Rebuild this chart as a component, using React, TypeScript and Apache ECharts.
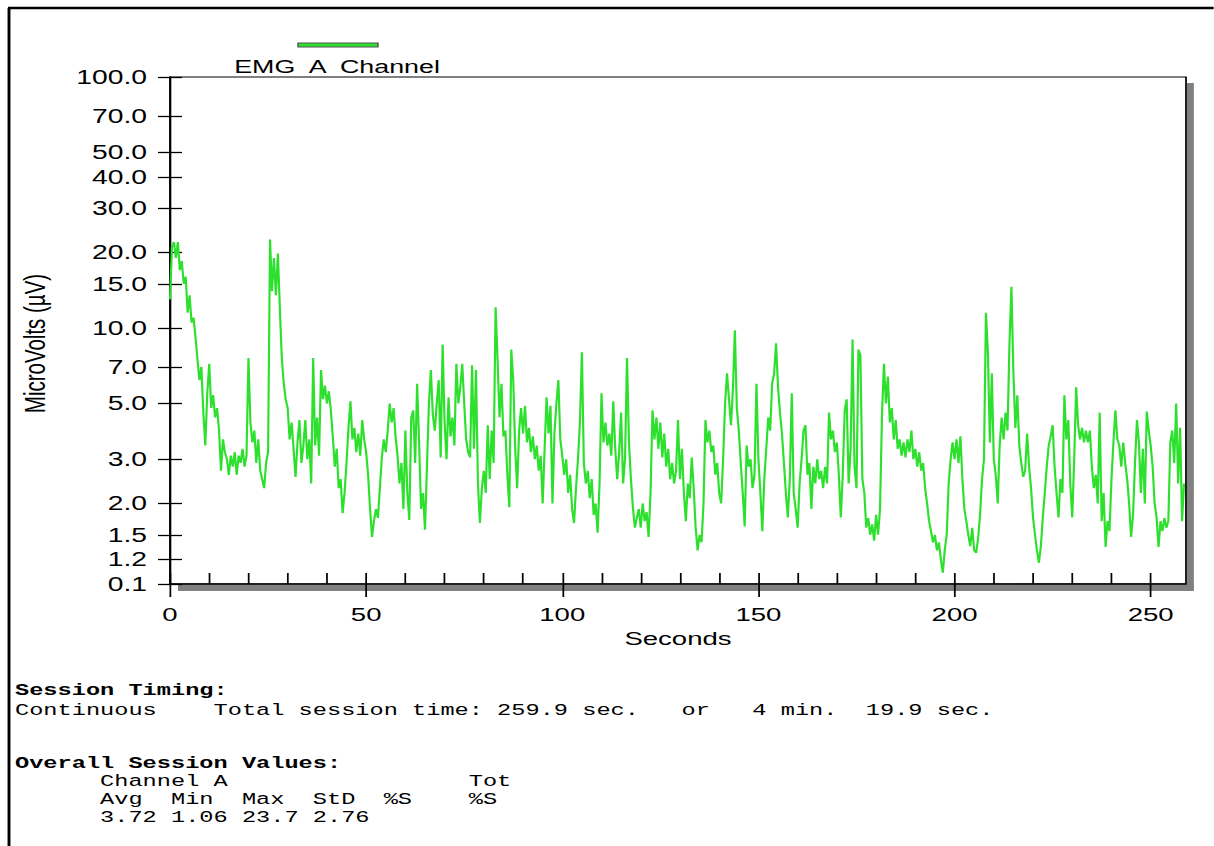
import React, { useEffect, useRef } from "react";
import * as echarts from "echarts";

// ---- data ----
const SAMPLE_STEP_SEC = 0.5;
const EMG_A_VALUES: number[] = [
  13, 21, 22, 19, 22, 17, 18.5, 15, 16, 11.5, 13.5, 10.5, 11, 9.2, 7.5, 6.2, 7.0, 4.6, 3.4, 5.5,
  7.2, 4.8, 5.4, 4.4, 4.8, 3.9, 2.7, 3.6, 3.2, 3.0, 2.6, 3.1, 2.8, 3.2, 2.6, 3.1, 2.9, 3.3, 2.8, 3.1,
  7.6, 4.2, 3.5, 3.9, 2.9, 3.6, 2.7, 2.5, 2.3, 2.9, 3.2, 22.5, 14, 19, 13.5, 19.8, 12, 7.6, 6.0, 5.2,
  4.8, 3.6, 4.2, 3.3, 2.55, 3.5, 4.3, 2.9, 3.4, 4.3, 3.0, 3.6, 2.4, 7.6, 3.4, 4.4, 3.1, 6.8, 5.2, 5.9,
  5.0, 5.6, 4.7, 3.7, 2.8, 3.3, 2.3, 2.5, 1.83, 2.2, 2.9, 4.0, 5.1, 3.6, 4.0, 3.2, 3.8, 3.1, 4.3, 3.6,
  3.2, 2.6, 1.9, 1.47, 1.7, 1.9, 1.75, 2.3, 3.05, 3.6, 3.2, 3.9, 5.0, 4.2, 4.8, 3.7, 3.1, 2.4, 2.9, 1.9,
  3.9, 2.2, 1.72, 4.4, 4.7, 2.9, 6.0, 3.5, 1.9, 2.2, 1.57, 2.8, 5.0, 6.8, 4.5, 3.9, 5.0, 6.2, 3.05, 8.6,
  4.2, 3.0, 5.3, 3.7, 4.4, 3.4, 7.2, 5.0, 5.8, 7.2, 5.0, 3.6, 3.2, 3.05, 7.1, 3.3, 6.8, 2.4, 1.67, 2.3,
  2.7, 2.2, 4.1, 2.5, 3.9, 2.9, 12.1, 7.5, 4.4, 6.0, 3.7, 3.9, 2.6, 1.93, 8.2, 6.2, 3.3, 2.3, 3.9, 4.8,
  3.8, 4.9, 3.5, 4.0, 3.2, 3.7, 3.0, 3.4, 2.7, 3.1, 2.0, 3.3, 5.3, 3.8, 4.9, 2.0, 3.8, 5.0, 6.2, 3.6,
  3.1, 2.6, 3.0, 2.2, 2.6, 1.9, 1.67, 2.3, 3.0, 4.2, 8.0, 2.9, 2.4, 2.7, 2.1, 2.5, 1.8, 2.0, 1.53, 2.4,
  5.5, 3.5, 4.2, 3.4, 3.8, 3.1, 5.1, 3.3, 2.5, 3.2, 4.6, 2.4, 3.0, 7.6, 3.5, 2.5, 1.93, 1.6, 1.75, 1.9,
  1.6, 2.0, 1.7, 1.85, 1.47, 2.2, 4.7, 3.6, 4.4, 3.3, 4.2, 3.05, 3.8, 2.8, 3.3, 2.5, 2.9, 2.4, 2.7, 4.3,
  2.5, 3.3, 2.2, 1.7, 2.4, 2.1, 3.05, 2.3, 1.6, 1.3, 1.5, 1.4, 2.0, 4.3, 3.5, 3.9, 3.2, 3.4, 2.6, 2.9,
  2.2, 2.0, 3.0, 5.0, 6.6, 5.2, 4.1, 5.7, 9.8, 4.8, 3.9, 2.9, 2.2, 1.62, 3.4, 2.8, 3.0, 2.3, 2.6, 6.0,
  3.0, 2.2, 1.55, 2.5, 3.3, 4.4, 3.9, 6.0, 6.6, 8.7, 5.8, 4.6, 3.8, 2.9, 2.2, 1.76, 2.5, 5.5, 2.2, 1.9,
  1.6, 2.4, 3.0, 3.9, 4.1, 2.6, 2.9, 1.9, 2.8, 2.4, 3.0, 2.5, 2.7, 2.3, 2.8, 2.4, 4.6, 3.6, 3.9, 3.2,
  3.5, 2.6, 1.76, 2.6, 4.7, 5.2, 2.4, 3.3, 9.0, 2.8, 2.3, 8.2, 7.8, 2.5, 2.2, 1.6, 1.75, 1.5, 1.65, 1.42,
  1.8, 1.5, 1.9, 4.5, 7.2, 5.0, 6.4, 4.2, 4.8, 3.6, 4.3, 3.3, 3.6, 3.1, 3.5, 3.05, 3.6, 3.2, 3.9, 3.0,
  3.3, 2.8, 3.2, 2.7, 2.9, 2.3, 2.0, 1.7, 1.55, 1.4, 1.5, 1.3, 1.4, 1.2, 1.06, 1.3, 1.5, 2.4, 3.0, 3.5,
  3.0, 3.6, 2.9, 3.7, 2.5, 1.9, 1.7, 1.5, 1.35, 1.6, 1.3, 1.27, 1.45, 1.8, 2.5, 3.0, 11.5, 8.0, 3.5, 6.6,
  3.0, 2.6, 2.0, 3.4, 4.4, 3.6, 4.6, 3.9, 8.7, 14.6, 6.6, 4.0, 5.4, 3.4, 2.9, 2.55, 2.7, 3.8, 2.8, 2.3,
  1.76, 1.5, 1.3, 1.16, 1.35, 1.76, 2.2, 2.8, 3.4, 3.7, 4.1, 2.8, 2.2, 1.76, 2.5, 2.2, 5.4, 3.6, 4.3, 2.4,
  1.76, 3.0, 5.8, 4.1, 3.6, 4.0, 3.5, 3.9, 3.5, 3.9, 2.8, 2.3, 2.6, 2.0, 4.6, 1.7, 2.2, 1.34, 1.7, 1.55,
  2.5, 3.5, 4.7, 3.6, 3.4, 2.8, 3.5, 2.9, 2.5, 2.0, 1.47, 1.8, 2.9, 4.3, 3.5, 2.2, 3.3, 2.0, 4.65, 3.9,
  3.4, 2.8, 2.0, 1.76, 1.34, 1.7, 1.55, 1.75, 1.6, 1.7, 3.5, 3.9, 2.9, 5.0, 2.4, 4.0, 1.7, 2.4,
];

const Y_MIN = 0.955;
const Y_MAX = 100;
const Y_TICK_VALUES = [0.955, 1.2, 1.5, 2, 3, 5, 7, 10, 15, 20, 30, 40, 50, 70, 100];
const Y_TICK_LABELS = ["0.1", "1.2", "1.5", "2.0", "3.0", "5.0", "7.0", "10.0", "15.0", "20.0", "30.0", "40.0", "50.0", "70.0", "100.0"];
const X_MAX = 259;
const X_MAJOR_TICKS = [0, 50, 100, 150, 200, 250];
const X_MINOR_TICKS = [0, 10, 20, 30, 40, 50, 60, 70, 80, 90, 100, 110, 120, 130, 140, 150, 160, 170, 180, 190, 200, 210, 220, 230, 240, 250];

const SERIES_NAME = "EMG  A  Channel";
const Y_NAME = "MicroVolts (µV)";
const X_NAME = "Seconds";

const REPORT_LINES: string[] = [
  "Session Timing:",
  "Continuous    Total session time: 259.9 sec.   or   4 min.  19.9 sec.",
  "Overall Session Values:",
  "      Channel A                 Tot",
  "      Avg  Min  Max  StD  %S    %S",
  "      3.72 1.06 23.7 2.76",
];
const REPORT_BOLD = [true, false, true, false, false, false];
const REPORT_LINE_Y = [691, 711, 764, 782, 800, 818];

// ---- layout (the source picture is a horizontally stretched screenshot) ----
const W = 1214;
const H = 846;
const STRETCH = 1.45;
const sx = (x: number) => x / STRETCH; // final-pixel x -> unstretched chart x
const CW = W / STRETCH;
const GRID_L = sx(170);
const GRID_T = 77;
const GRID_W = sx(1186) - sx(170);
const GRID_H = 507;
const SANS = "'Liberation Sans', Arial, sans-serif";
const MONO = "'Liberation Mono', 'Courier New', monospace";

function yLabel(val: number): string {
  let best = 0;
  let bestD = Infinity;
  for (let i = 0; i < Y_TICK_VALUES.length; i++) {
    const d = Math.abs(Math.log(val) - Math.log(Y_TICK_VALUES[i]));
    if (d < bestD) {
      bestD = d;
      best = i;
    }
  }
  return Y_TICK_LABELS[best];
}

export default function App() {
  const ref = useRef<HTMLDivElement>(null);

  useEffect(() => {
    if (!ref.current) return;
    const chart = echarts.init(ref.current, null, { renderer: "svg" });
    const seriesData = EMG_A_VALUES.map((v, i) => [i * SAMPLE_STEP_SEC, v]);

    const reportGraphics = REPORT_LINES.map((t, i) => ({
      type: "text",
      x: sx(15),
      y: REPORT_LINE_Y[i],
      style: {
        text: t,
        fontFamily: MONO,
        fontSize: 16.3,
        fontWeight: REPORT_BOLD[i] ? "bold" : "normal",
        fill: "#000",
        verticalAlign: "middle",
        textVerticalAlign: "middle",
      },
    }));

    const option: any = {
      animation: false,
      backgroundColor: "#ffffff",
      grid: {
        left: GRID_L,
        top: GRID_T,
        width: GRID_W,
        height: GRID_H,
        show: true,
        backgroundColor: "#ffffff",
        borderColor: "#000",
        borderWidth: 1.2,
        containLabel: false,
      },
      xAxis: [
        {
          type: "value",
          min: 0,
          max: X_MAX,
          position: "bottom",
          axisLine: { show: true, onZero: false, lineStyle: { color: "#000", width: 1.5 } },
          axisTick: { show: true, length: 13, customValues: X_MAJOR_TICKS, lineStyle: { color: "#000", width: 1.2 } },
          axisLabel: {
            customValues: X_MAJOR_TICKS,
            fontFamily: SANS,
            fontSize: 19,
            color: "#000",
            margin: 21,
          },
          splitLine: { show: false },
          name: X_NAME,
          nameLocation: "middle",
          nameGap: 39,
          nameTextStyle: { fontFamily: SANS, fontSize: 19, color: "#000" },
        },
        {
          type: "value",
          min: 0,
          max: X_MAX,
          position: "top",
          offset: -GRID_H,
          axisLine: { show: false, onZero: false },
          axisTick: { show: true, length: 11, customValues: X_MINOR_TICKS, lineStyle: { color: "#000", width: 1.2 } },
          axisLabel: { show: false },
          splitLine: { show: false },
        },
      ],
      yAxis: [
        {
          type: "log",
          logBase: 10,
          min: Y_MIN,
          max: Y_MAX,
          position: "left",
          axisLine: { show: true, onZero: false, lineStyle: { color: "#000", width: 1.3 } },
          axisTick: { show: true, length: sx(12), customValues: Y_TICK_VALUES, lineStyle: { color: "#000", width: 1.3 } },
          axisLabel: {
            customValues: Y_TICK_VALUES,
            formatter: (v: number) => yLabel(v),
            fontFamily: SANS,
            fontSize: 19.5,
            color: "#000",
            margin: sx(23),
          },
          minorTick: { show: false },
          splitLine: { show: false },
          name: Y_NAME,
          nameLocation: "middle",
          nameRotate: 90,
          nameGap: GRID_L - sx(38) - 8,
          nameTextStyle: { fontFamily: SANS, fontSize: 20.5, color: "#000", padding: [0, 26, 0, 0] },
        },
        {
          type: "log",
          logBase: 10,
          min: Y_MIN,
          max: Y_MAX,
          position: "right",
          offset: -GRID_W,
          axisLine: { show: false, onZero: false },
          axisTick: { show: true, length: sx(12), customValues: Y_TICK_VALUES, lineStyle: { color: "#000", width: 1.3 } },
          axisLabel: { show: false },
          minorTick: { show: false },
          splitLine: { show: false },
        },
      ],
      series: [
        {
          name: SERIES_NAME,
          type: "line",
          xAxisIndex: 0,
          yAxisIndex: 0,
          data: seriesData,
          showSymbol: false,
          symbol: "none",
          lineStyle: { color: "#2ee02e", width: 1.5 },
          z: 3,
        },
      ],
      graphic: [
        // outer frame
        { type: "line", shape: { x1: sx(8), y1: 8, x2: CW, y2: 8 }, style: { stroke: "#000", lineWidth: 2.5 } },
        { type: "line", shape: { x1: sx(9), y1: 8, x2: sx(9), y2: H }, style: { stroke: "#000", lineWidth: 2 } },
        // plot drop shadow
        {
          type: "rect",
          shape: { x: GRID_L + GRID_W + 0.6, y: GRID_T + 6, width: sx(7), height: GRID_H + 1 },
          style: { fill: "#808080" },
          z: -1,
        },
        {
          type: "rect",
          shape: { x: GRID_L + sx(8), y: GRID_T + GRID_H + 1, width: GRID_W - sx(8) + sx(7.5), height: 6 },
          style: { fill: "#808080" },
          z: -1,
        },
        // legend
        {
          type: "rect",
          shape: { x: sx(298), y: 43, width: sx(80), height: 4 },
          style: { fill: "#2ee02e", stroke: "#555", lineWidth: 1 },
        },
        {
          type: "text",
          x: sx(337),
          y: 67,
          style: {
            text: SERIES_NAME,
            fontFamily: SANS,
            fontSize: 18.5,
            fill: "#000",
            align: "center",
            textAlign: "center",
            verticalAlign: "middle",
            textVerticalAlign: "middle",
          },
        },
        ...reportGraphics,
      ],
    };

    chart.setOption(option);
    return () => chart.dispose();
  }, []);

  return (
    <div style={{ position: "absolute", left: 0, top: 0, width: W, height: H, overflow: "hidden", background: "#fff" }}>
      <div
        ref={ref}
        style={{
          position: "absolute",
          left: 0,
          top: 0,
          width: CW,
          height: H,
          transform: `scaleX(${STRETCH})`,
          transformOrigin: "0 0",
        }}
      />
    </div>
  );
}
